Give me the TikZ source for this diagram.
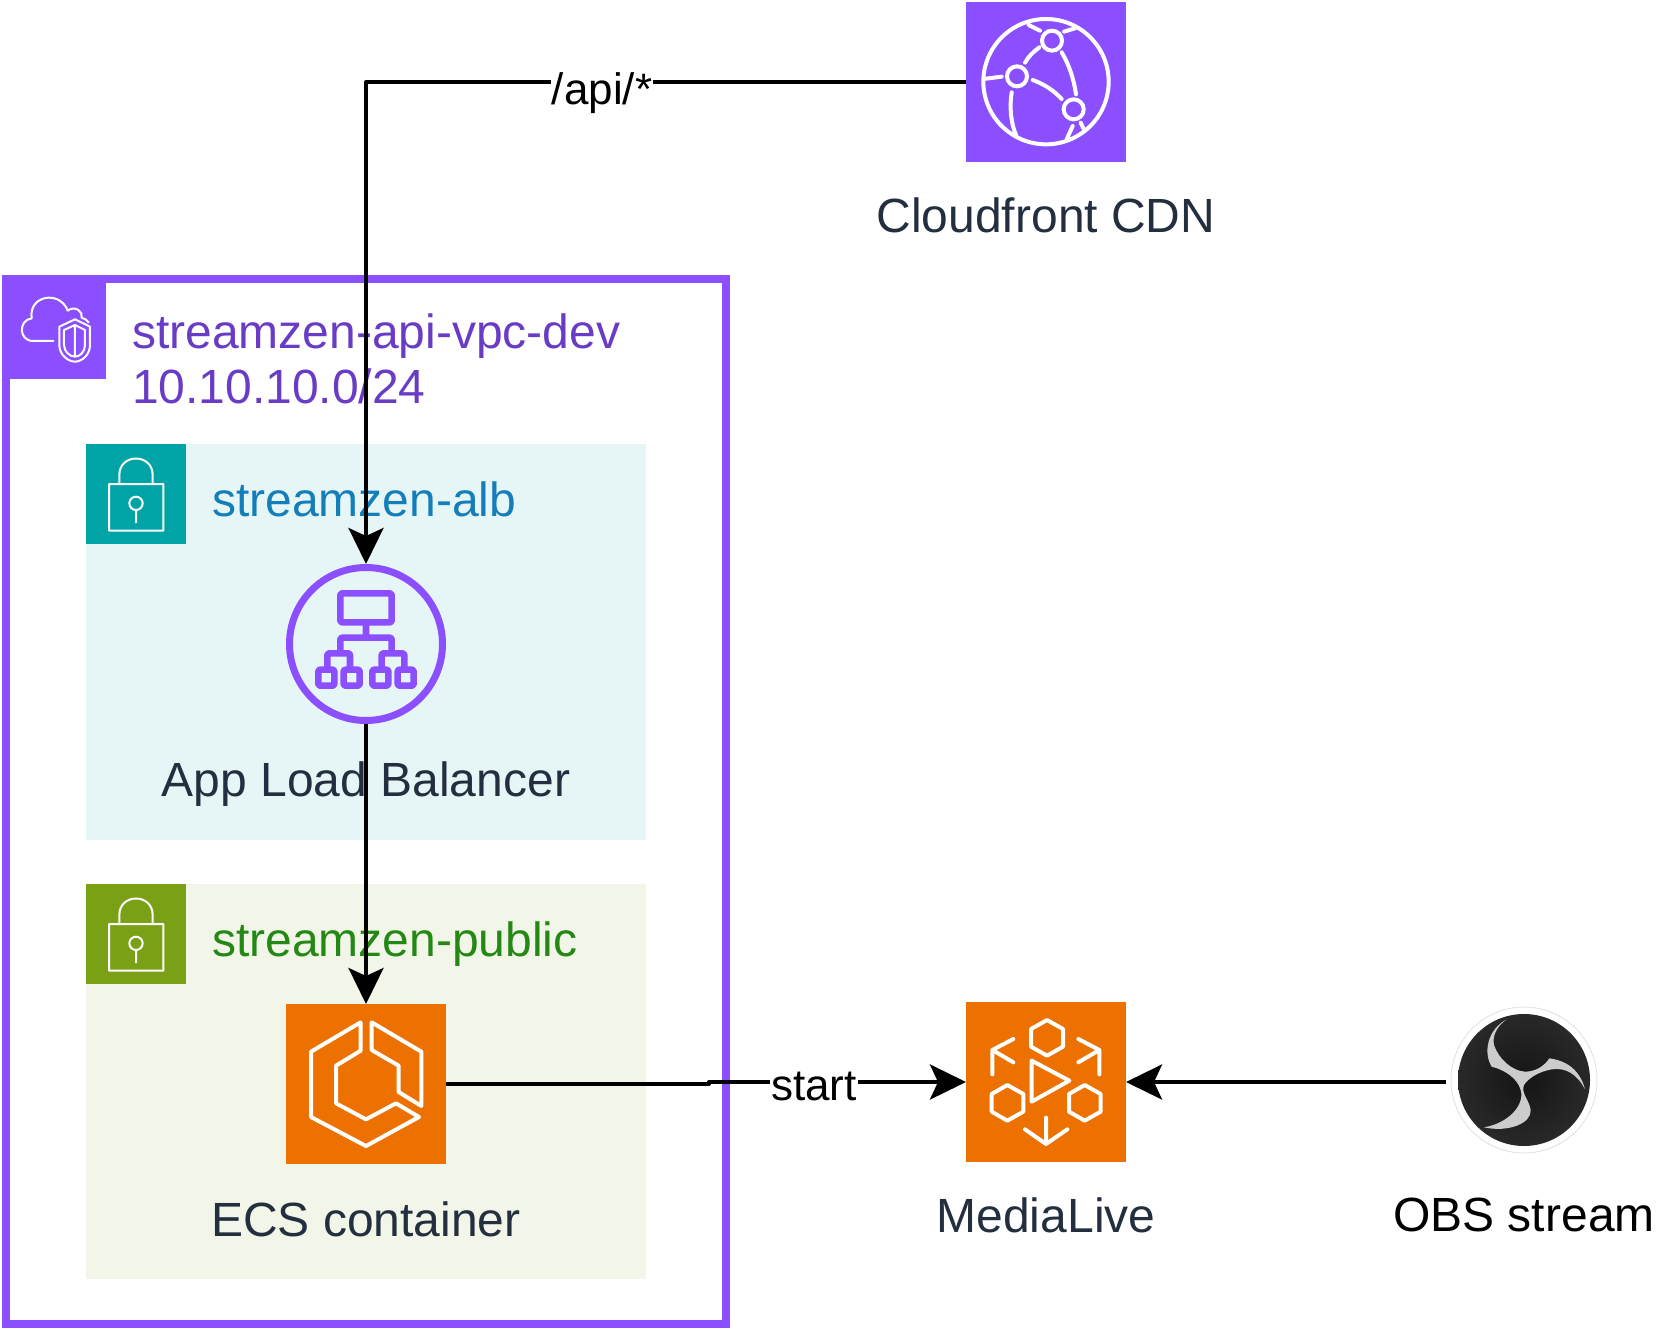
\documentclass[tikz,border=0pt]{standalone}
\usepackage{fontspec}
\setmainfont{Liberation Sans}
\usetikzlibrary{arrows.meta}
\definecolor{awspurple}{HTML}{8C4FFF}
\definecolor{vpctext}{HTML}{693CC5}
\definecolor{albteal}{HTML}{00A4A6}
\definecolor{albfill}{HTML}{E6F6F7}
\definecolor{albtext}{HTML}{147EBA}
\definecolor{pubgreen}{HTML}{7AA116}
\definecolor{pubfill}{HTML}{F2F6E8}
\definecolor{pubtext}{HTML}{248814}
\definecolor{awsorange}{HTML}{ED7100}
\definecolor{awsink}{HTML}{232F3E}
\tikzset{
    lock/.pic={
        \draw[icon line, line width=1pt] (69,120) rectangle (232,260)
            (100,120) -- (100,93) .. controls (100,27) and (200,27) .. (200,93) -- (200,120)
            (150,178) circle (20) (150,198) -- (150,235);
    }
}
\begin{document}
\begin{tikzpicture}[
        x=.5pt, y=-.5pt,
        line join=round,
        label text/.style={font=\fontsize{24}{27.6}\selectfont, inner sep=0pt, outer sep=0pt},
        edge text/.style={font=\fontsize{22}{26}\selectfont, fill=white, inner ysep=0pt, inner xsep=.5pt, outer sep=0pt},
        tile/.style={minimum size=80pt, inner sep=0pt, outer sep=0pt},
        group box/.style={minimum width=280pt, inner sep=0pt, outer sep=0pt},
        icon line/.style={draw=white, line cap=round, line width=2pt},
        link/.style={draw=black, line width=2pt, -{Stealth[length=18pt, width=17.5pt, inset=4pt]}}
    ]
    \useasboundingbox (0,0) rectangle (1664,1332);

    % groups
    \node[draw=awspurple, line width=4pt, line join=miter, minimum width=360pt, minimum height=522.5pt, inner sep=0pt] (vpc) at (366,801.5) {};
    \node[tile, fill=awspurple, minimum size=50pt, anchor=north west] (vpcicon) at (6,279) {};
    \node[group box, fill=albfill, minimum height=198pt, anchor=north west] (albgroup) at (86,444) {};
    \node[tile, fill=albteal, minimum size=50pt, anchor=north west] (albicon) at (86,444) {};
    \node[group box, fill=pubfill, minimum height=197.5pt, anchor=north west] (pubgroup) at (86,884) {};
    \node[tile, fill=pubgreen, minimum size=50pt, anchor=north west] (pubicon) at (86,884) {};
    \path (86,444) pic[scale=1/3] {lock} (86,884) pic[scale=1/3] {lock};

    % cloud with shield
    \begin{scope}[shift={(0,270)}, scale=1/3]
        \draw[icon line, line width=1pt]
            (160,213) -- (100,213) .. controls (55,213) and (55,150) .. (95,145)
            .. controls (85,75) and (180,60) .. (203,122)
            .. controls (225,105) and (250,125) .. (245,143) .. controls (255,147) and (262,150) .. (266,157)
            (178,170) -- (225,148) -- (270,170) -- (270,225) .. controls (270,255) and (245,275) .. (225,275)
            .. controls (205,275) and (178,255) .. (178,225) -- cycle
            (192,180) -- (225,165) -- (255,180) -- (255,225) .. controls (255,245) and (240,260) .. (225,260)
            .. controls (210,260) and (192,245) .. (192,225) -- cycle
            (225,165) -- (225,260);
    \end{scope}

    \node[label text, text=vpctext, anchor=west, align=left] (vpclabel) at (132,359) {streamzen-api-vpc-dev\\10.10.10.0/24};
    \node[label text, text=albtext, anchor=west] (alblabel) at (212,499) {streamzen-alb};
    \node[label text, text=pubtext, anchor=west] (publabel) at (212,944) {streamzen-public};

    % services
    \node[tile, fill=awspurple] (cdn) at (1046,82) {};
    \node[draw=awspurple, line width=3.5pt, circle, minimum size=76.5pt, inner sep=0pt] (alb) at (366,644) {};
    \node[tile, fill=awsorange] (ecs) at (366,1084) {};
    \node[tile, fill=awsorange] (medialive) at (1046,1082) {};
    \node[circle, draw=black!10, line width=.5pt, fill=white, minimum size=73pt, inner sep=0pt] (obs) at (1524,1080) {};

    % cdn icon
    \begin{scope}[shift={(950,0)}, scale=1/3]
        \draw[icon line] (288,245) circle (188)
            (306,122) circle (30) (201,229) circle (30) (371,328) circle (30)
            (108,236) -- (155,230)
            (185,277) .. controls (178,320) and (182,370) .. (200,410)
            (225,188) .. controls (235,170) and (250,155) .. (268,142)
            (335,157) .. controls (358,195) and (372,240) .. (378,283)
            (248,240) .. controls (282,252) and (312,272) .. (335,297)
            (236,75) -- (270,92) (342,95) -- (375,85)
            (368,378) -- (350,418) (392,368) -- (400,385);
    \end{scope}

    % load balancer icon
    \begin{scope}[shift={(270,550)}, scale=1/3]
        \draw[awspurple, line width=3.3pt, rounded corners=1pt]
            (211,130) rectangle (365,217)
            (288,217) -- (288,263)
            (211,310) -- (211,263) -- (365,263) -- (365,310)
            (172,355) -- (172,310) -- (240,310) -- (240,355)
            (335,355) -- (335,310) -- (403,310) -- (403,355)
            (145,359) rectangle (193,407) (221,359) rectangle (269,407)
            (307,359) rectangle (355,407) (383,359) rectangle (431,407);
    \end{scope}

    % ecs icon
    \begin{scope}[shift={(270,990)}, scale=1/3]
        \draw[icon line]
            (272,97) -- (123,185) -- (123,381) -- (288,468) -- (447,381) -- (378,340) -- (288,388)
            -- (198,340) -- (198,227) -- (272,182) -- cycle
            (305,97) -- (454,185) -- (454,348) -- (386,306) -- (386,227) -- (305,180) -- cycle;
    \end{scope}

    % medialive icon
    \begin{scope}[shift={(950,990)}, scale=1/3]
        \draw[icon line]
            (291,90) -- (339,117) -- (339,170) -- (291,197) -- (243,170) -- (243,117) -- cycle
            (172,285) -- (220,312) -- (220,365) -- (172,392) -- (125,365) -- (125,312) -- cycle
            (404,285) -- (452,312) -- (452,365) -- (404,392) -- (357,365) -- (357,312) -- cycle
            (245,212) -- (358,272) -- (245,335) -- cycle
            (127,253) -- (127,180) (190,147) -- (127,180) -- (190,217)
            (448,253) -- (448,180) (385,147) -- (448,180) -- (385,217)
            (288,383) -- (288,462) (225,418) -- (288,462) -- (352,418);
    \end{scope}

    % obs logo
    \begin{scope}[shift={(1430,990)}, scale=1/3]
        \shade[inner color=black!92, outer color=black!84] (282,270) circle (198);
        \fill[black!20]
            (230,88) .. controls (170,120) and (160,190) .. (185,230)
            .. controls (225,240) and (262,265) .. (272,300)
            .. controls (285,345) and (235,400) .. (162,412)
            .. controls (235,428) and (305,400) .. (302,360)
            .. controls (298,330) and (272,310) .. (282,285)
            .. controls (295,265) and (325,245) .. (365,238)
            .. controls (405,232) and (440,250) .. (465,298)
            .. controls (450,240) and (410,212) .. (358,205)
            .. controls (345,225) and (320,245) .. (285,245)
            .. controls (245,243) and (205,205) .. (192,165)
            .. controls (185,135) and (205,105) .. (230,88) -- cycle;
    \end{scope}

    \node[label text, text=awsink] (cdnlabel) at (1046,215) {Cloudfront CDN};
    \node[label text, text=awsink] (alblabel2) at (366,784) {App Load Balancer};
    \node[label text, text=awsink] (ecslabel) at (366,1219) {ECS container};
    \node[label text, text=awsink] (medialabel) at (1046,1215) {MediaLive};
    \node[label text, text=black] (obslabel) at (1524,1215) {OBS stream};

    \coordinate (obsout) at (1446,1082);
    \coordinate (jog) at (709,1084);

    % connectors
    \draw[link] (cdn.west) -| (alb.north);
    \draw[link] (alb.south) -- (ecs.north);
    \draw[link] (ecs.east) -- (jog) |- (medialive.west);
    \draw[link] (obsout) -- (medialive.east);

    \node[edge text] (apilabel) at (602,93) {/api/*};
    \node[edge text] (startlabel) at (814,1086) {start};
\end{tikzpicture}
\end{document}
